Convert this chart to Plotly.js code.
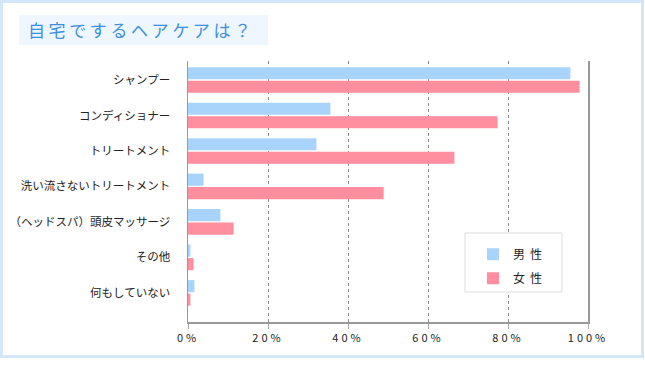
<!DOCTYPE html>
<html>
<head>
<meta charset="utf-8">
<script src="https://cdn.plot.ly/plotly-3.0.1.min.js"></script>
<style>
  html, body { margin: 0; padding: 0; background: #fff; }
  #wrap { position: relative; width: 645px; height: 376px; }
  #frame { position: absolute; left: 0px; top: 0px; width: 638px; height: 352px;
           border: 3px solid #d3e7f9; pointer-events: none; }
  #chart { position: absolute; left: 0; top: 0; width: 645px; height: 376px; }
  #title { position: absolute; left: 19px; top: 15px; width: 240px; height: 30px;
           padding-left: 9px; background: #eef6ff; color: #3d8fe0;
           font-family: 'Noto Sans CJK JP', sans-serif; font-size: 17px;
           letter-spacing: 3.6px; line-height: 30px; white-space: nowrap; }
  .xtick text { letter-spacing: 3px; }
  .legendtext { letter-spacing: 5px; }
</style>
</head>
<body>
<div id="wrap">
  <div id="chart"></div>
  <div id="frame"></div>
  <div id="title">自宅でするヘアケアは？</div>
</div>
<script>
const categories = ["シャンプー", "コンディショナー", "トリートメント", "洗い流さないトリートメント", "（ヘッドスパ）頭皮マッサージ", "その他", "何もしていない"];
const male = [95.6, 35.6, 32.1, 3.9, 8.1, 0.6, 1.6];
const female = [97.9, 77.4, 66.6, 48.9, 11.4, 1.4, 0.6];
const seriesNames = ["男性", "女性"];
const tickVals = [0, 20, 40, 60, 80, 100];
const tickLabels = ["0%", "20%", "40%", "60%", "80%", "100%"];

const font = "'Noto Sans CJK JP', 'Noto Sans', sans-serif";

const traces = [
  { type: "bar", orientation: "h", name: seriesNames[0], legendgroup: "m", y: categories, x: male,
    marker: { color: "#a8d4fc" }, hoverinfo: "none" },
  { type: "bar", orientation: "h", name: seriesNames[1], legendgroup: "f", y: categories, x: female,
    marker: { color: "#ff8e9e" }, hoverinfo: "none" }
];

const layout = {
  width: 645, height: 376,
  margin: { l: 188, r: 57, t: 61, b: 54 },
  paper_bgcolor: "#fff", plot_bgcolor: "#fff",
  font: { family: font, color: "#222", size: 11 },
  barmode: "group", bargap: 0.24, bargroupgap: 0.1,
  showlegend: true,
  legend: { x: 0.7125, y: 0.315, xanchor: "left", yanchor: "top",
            bgcolor: "rgba(0,0,0,0)", borderwidth: 0, traceorder: "grouped",
            font: { size: 12, color: "#222" }, itemwidth: 30, tracegroupgap: 5 },
  xaxis: { range: [0, 100], tickvals: tickVals, ticktext: tickLabels,
           showgrid: true, gridcolor: "#888", griddash: "dot", gridwidth: 1,
           zeroline: false, showline: true, linecolor: "#999", linewidth: 1.5,
           ticks: "outside", ticklen: 5, tickcolor: "#aaa",
           tickfont: { size: 11, color: "#222" }, fixedrange: true },
  yaxis: { type: "category", range: [6.82, -0.535], showgrid: false,
           showline: true, mirror: true, linecolor: "#999", linewidth: 1.5,
           ticks: "", ticklabelstandoff: 14,
           tickfont: { size: 11.5, color: "#222" }, fixedrange: true },
  shapes: [
    { type: "rect", xref: "paper", yref: "paper", x0: 0.6925, x1: 0.935, y0: 0.115, y1: 0.341,
      fillcolor: "#fff", line: { width: 1, color: "#dddddd" }, layer: "above" }
  ]
};

Plotly.newPlot("chart", traces, layout, { displayModeBar: false, staticPlot: true });
</script>
</body>
</html>
